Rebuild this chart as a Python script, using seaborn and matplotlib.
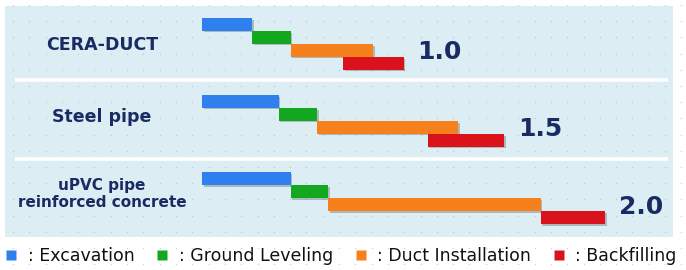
import numpy as np
import matplotlib
matplotlib.use("Agg")
import matplotlib.pyplot as plt
import matplotlib.patheffects as pe
from matplotlib.patches import Rectangle
from matplotlib.lines import Line2D
import seaborn as sns

# ---- data (time ratio, CERA-DUCT = 1.0) ----
categories = ["CERA-DUCT", "Steel pipe", "uPVC pipe\nreinforced concrete"]
tasks = ["Excavation", "Ground Leveling", "Duct Installation", "Backfilling"]
task_start = {
    "Excavation":        [0.00, 0.00, 0.00],
    "Ground Leveling":   [0.25, 0.38, 0.44],
    "Duct Installation": [0.44, 0.57, 0.625],
    "Backfilling":       [0.70, 1.12, 1.68],
}
task_end = {
    "Excavation":        [0.25, 0.38, 0.44],
    "Ground Leveling":   [0.44, 0.57, 0.625],
    "Duct Installation": [0.85, 1.27, 1.68],
    "Backfilling":       [1.00, 1.50, 2.00],
}
totals = [1.0, 1.5, 2.0]

colors = {"Excavation": "#2f80ee", "Ground Leveling": "#14a821",
          "Duct Installation": "#f5801c", "Backfilling": "#d9121b"}
navy = "#182b63"

sns.set_style("white")
plt.rcParams["font.family"] = ["DejaVu Sans"]

W, H = 686, 270
fig = plt.figure(figsize=(W / 100, H / 100), dpi=100)
ax = fig.add_axes([0, 0, 1, 1])
ax.set_facecolor("white")

# x: 0 at pixel 202, 201.5 px per unit ; y: pixel rows (top = 0)
px0, ppu = 202, 201.5
ax.set_xlim(-px0 / ppu, (W - px0) / ppu)
ax.set_ylim(H, 0)
ax.axis("off")

# panel + dot pattern + separators
ax.add_patch(Rectangle((5 / W, 1 - 237 / H), 668 / W, 231 / H, transform=ax.transAxes,
                       facecolor="#dcedf3", edgecolor="none", zorder=0))
gx, gy = np.meshgrid(np.arange(13, W, 16.3), np.arange(5, H, 16.2))
ax.scatter(gx.ravel() / W, 1 - gy.ravel() / H, s=1.2, color="#a8bfc8", alpha=0.6,
           transform=ax.transAxes, zorder=0.5, linewidths=0)
for ysep in [80, 158.5]:
    ax.plot([15 / W, 668 / W], [1 - ysep / H] * 2, color="white", lw=2.6,
            transform=ax.transAxes, zorder=1, solid_capstyle="butt")

shadow = [pe.SimplePatchShadow(offset=(1.2, -1.2), shadow_rgbFace="k", alpha=0.22), pe.Normal()]

row_h = 13.0
for i, cat in enumerate(categories):
    top = 17.8 + 77.2 * i
    for j, t in enumerate(tasks):
        yc = top + row_h * j + row_h / 2
        s = task_start[t][i]
        e = task_end[t][i]
        ax.barh(yc, e - s, left=s, height=12.6, color=colors[t], zorder=3 + j,
                edgecolor="none", linewidth=0, path_effects=shadow)
    # total label
    ax.annotate(f"{totals[i]:.1f}", xy=(task_end["Backfilling"][i], top + row_h * 2.5 + 2),
                xytext=(10, 0), textcoords="offset points", va="center", ha="left",
                fontsize=18, fontweight="bold", color=navy, zorder=10)
    # category label
    lab_y = [44.5, 117.5, 194][i]
    ax.text((102 - px0) / ppu, lab_y, cat, ha="center", va="center",
            fontsize=12.5 if i < 2 else 11, fontweight="bold", color=navy,
            linespacing=1.15, zorder=10)

handles = [Line2D([0], [0], marker="s", linestyle="none", markersize=7.5,
                  markerfacecolor=colors[t], markeredgecolor="none") for t in tasks]
fig.legend(handles, [": " + t for t in tasks], loc="center left",
           bbox_to_anchor=(6 / W, 1 - 256 / H), ncol=4, frameon=False,
           fontsize=12.5, handlelength=0.6, handletextpad=0.65, columnspacing=1.3,
           borderpad=0, borderaxespad=0, labelcolor="#111111")

fig.savefig("out.png", dpi=100)
